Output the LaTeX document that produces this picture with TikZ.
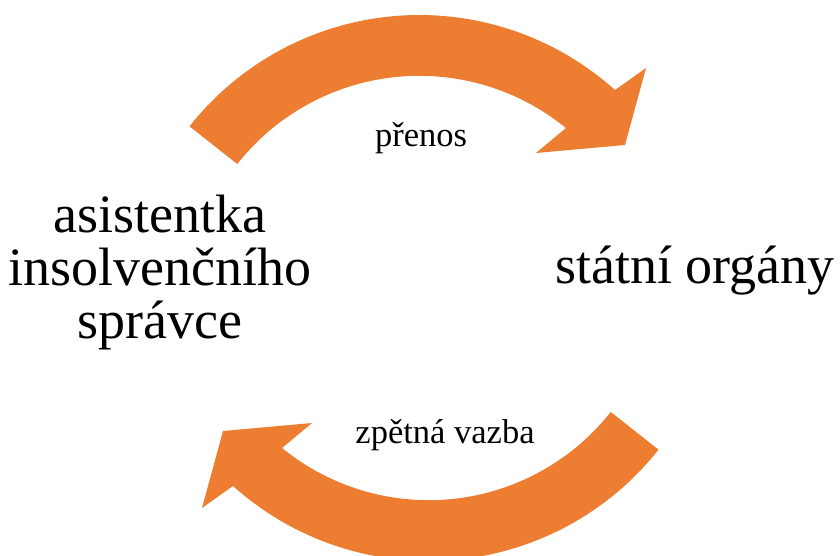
\documentclass[tikz,border=0pt]{standalone}
\usepackage{fontspec}
\setmainfont{Liberation Serif}
\usetikzlibrary{calc}
\definecolor{arroworange}{RGB}{237,125,49}
\tikzset{
  bigarrow/.style={fill=arroworange, draw=none},
  bigtext/.style={font=\fontsize{54}{53}\selectfont, align=center, anchor=base, inner sep=0pt},
  smalltext/.style={font=\fontsize{34.5}{40}\selectfont, anchor=base, inner sep=0pt}
}
\begin{document}
\begin{tikzpicture}[x=1pt,y=1pt]
\useasboundingbox (0,0) rectangle (840,555);
\coordinate (C1) at (419.3,247.2);
\coordinate (C2) at (428.7,286.8);
% top arrow (přenos)
\fill[bigarrow] ($(C1)+(141.7:292.8)$) arc[start angle=141.7, end angle=48.06, radius=292.8]
    -- (646,487) -- (625,410) -- (536,402)
    -- ($(C1)+(50.8:232)$) arc[start angle=50.8, end angle=141.7, radius=232] -- cycle;
% bottom arrow (zpětná vazba)
\fill[bigarrow] ($(C2)+(321.7:292.8)$) arc[start angle=321.7, end angle=228.06, radius=292.8]
    -- (202,47) -- (223,124) -- (312,132)
    -- ($(C2)+(230.8:232)$) arc[start angle=230.8, end angle=321.7, radius=232] -- cycle;
\node[bigtext] (asist) at (160,217) {asistentka\\insolvenčního\\správce};
\node[bigtext] (statni) at (695,272) {státní orgány};
\node[smalltext] (prenos) at (421,408) {přenos};
\node[smalltext] (zpetna) at (445,112) {zpětná vazba};
\end{tikzpicture}
\end{document}
